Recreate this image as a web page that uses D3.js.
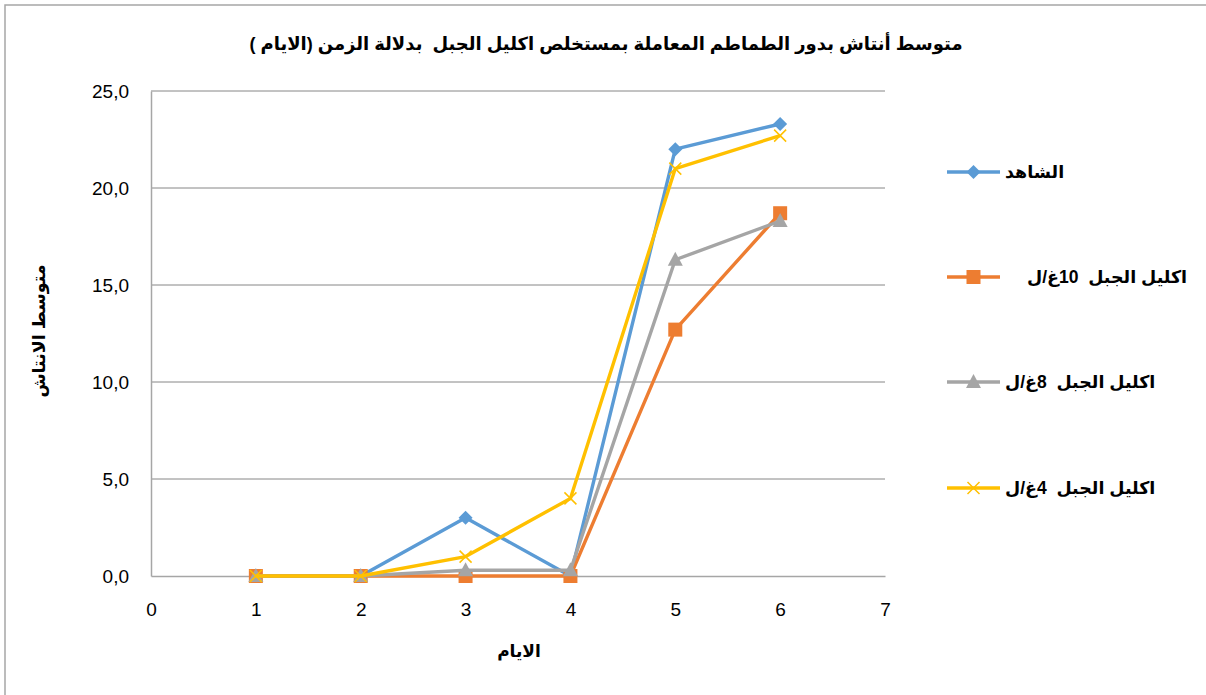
<!DOCTYPE html>
<html><head><meta charset="utf-8">
<script src="https://cdn.jsdelivr.net/npm/d3@7"></script>
<style>
html,body{margin:0;padding:0;background:#fff;}
svg text{font-family:"Liberation Sans","DejaVu Sans",Arial,sans-serif;white-space:pre;}
</style></head>
<body><svg id="c" width="1206" height="695"></svg>
<script>
const days = [1, 2, 3, 4, 5, 6];
const seriesNames = ["الشاهد", "اكليل الجبل  10غ/ل", "اكليل الجبل  8غ/ل", "اكليل الجبل  4غ/ل"];
const control = [0, 0, 3.0, 0, 22.0, 23.3];
const rosemary10 = [0, 0, 0, 0, 12.7, 18.7];
const rosemary8 = [0, 0, 0.3, 0.3, 16.3, 18.3];
const rosemary4 = [0, 0, 1.0, 4.0, 21.0, 22.7];
const xTicks = [0, 1, 2, 3, 4, 5, 6, 7];
const yTicks = [0, 5, 10, 15, 20, 25];
const colors = ["#5B9BD5", "#ED7D31", "#A5A5A5", "#FFC000"];
const markers = ["diamond", "square", "triangle", "x"];
const title = "متوسط أنتاش بدور الطماطم المعاملة بمستخلص اكليل الجبل  بدلالة الزمن (الايام )";
const xTitle = "الايام";
const yTitle = "متوسط الانتاش";

const svg = d3.select("#c");
// chart border (top/left visible)
svg.append("rect").attr("x", 5).attr("y", 5).attr("width", 1300).attr("height", 800)
  .attr("fill", "none").attr("stroke", "#A6A6A6").attr("stroke-width", 1.5);

const x = d3.scaleLinear().domain([0, 7]).range([151, 885]);
const y = d3.scaleLinear().domain([0, 25]).range([576, 91]);

// gridlines
svg.append("g").selectAll("line").data(yTicks.filter(d => d > 0)).join("line")
  .attr("x1", x(0)).attr("x2", x(7)).attr("y1", d => y(d)).attr("y2", d => y(d))
  .attr("stroke", "#868686").attr("stroke-width", 1);

// axes
const xAxis = svg.append("g").attr("transform", `translate(0,${y(0)})`)
  .call(d3.axisBottom(x).tickValues(xTicks).tickSize(0).tickPadding(27).tickFormat(d3.format("d")));
const yAxis = svg.append("g").attr("transform", `translate(${x(0)},0)`)
  .call(d3.axisLeft(y).tickValues(yTicks).tickSize(0).tickPadding(22).tickFormat(d => d.toFixed(1).replace(".", ",")));
[xAxis, yAxis].forEach(g => {
  g.select(".domain").attr("stroke", "#A6A6A6").attr("stroke-width", 1.5);
  g.selectAll("text").attr("font-size", 19).attr("fill", "#000")
    .style("font-family", "'Liberation Sans','DejaVu Sans',sans-serif");
});

const allSeries = [control, rosemary10, rosemary8, rosemary4];
const line = d3.line().x((d, i) => x(days[i])).y(d => y(d));

function drawMarker(g, type, color, cx, cy) {
  if (type === "diamond") {
    g.append("path").attr("d", `M${cx},${cy-7}L${cx+7},${cy}L${cx},${cy+7}L${cx-7},${cy}Z`).attr("fill", color);
  } else if (type === "square") {
    g.append("rect").attr("x", cx - 7).attr("y", cy - 7).attr("width", 14).attr("height", 14).attr("fill", color);
  } else if (type === "triangle") {
    g.append("path").attr("d", `M${cx},${cy-8}L${cx+7.5},${cy+6}L${cx-7.5},${cy+6}Z`).attr("fill", color);
  } else {
    g.append("path").attr("d", `M${cx-6},${cy-6}L${cx+6},${cy+6}M${cx-6},${cy+6}L${cx+6},${cy-6}`)
      .attr("stroke", color).attr("stroke-width", 1.5).attr("fill", "none");
  }
}

allSeries.forEach((vals, si) => {
  const g = svg.append("g");
  g.append("path").datum(vals).attr("d", line).attr("fill", "none")
    .attr("stroke", colors[si]).attr("stroke-width", 3.4).attr("stroke-linejoin", "round");
  vals.forEach((v, i) => drawMarker(g, markers[si], colors[si], x(days[i]), y(v)));
});

// legend
const legendY = [172, 277, 382, 488];
seriesNames.forEach((name, i) => {
  const g = svg.append("g");
  g.append("line").attr("x1", 947).attr("x2", 1000).attr("y1", legendY[i]).attr("y2", legendY[i])
    .attr("stroke", colors[i]).attr("stroke-width", 3.4);
  drawMarker(g, markers[i], colors[i], 973.5, legendY[i]);
  g.append("text").attr("x", i === 1 ? 1027 : 1005).attr("y", legendY[i] + 6)
    .attr("text-anchor", "end").attr("direction", "rtl").attr("font-size", 17.5).attr("font-weight", "bold")
    .attr("fill", "#000").text(name);
});

// title
svg.append("text").attr("x", 606).attr("y", 50).attr("text-anchor", "middle")
  .attr("font-size", 18).attr("font-weight", "bold").attr("fill", "#000").text(title);
// axis titles
svg.append("text").attr("x", 519).attr("y", 657).attr("text-anchor", "middle")
  .attr("font-size", 17).attr("font-weight", "bold").attr("fill", "#000").text(xTitle);
svg.append("text").attr("transform", "translate(45,331) rotate(-90)").attr("text-anchor", "middle")
  .attr("font-size", 17.5).attr("font-weight", "bold").attr("fill", "#000").text(yTitle);
</script></body></html>
